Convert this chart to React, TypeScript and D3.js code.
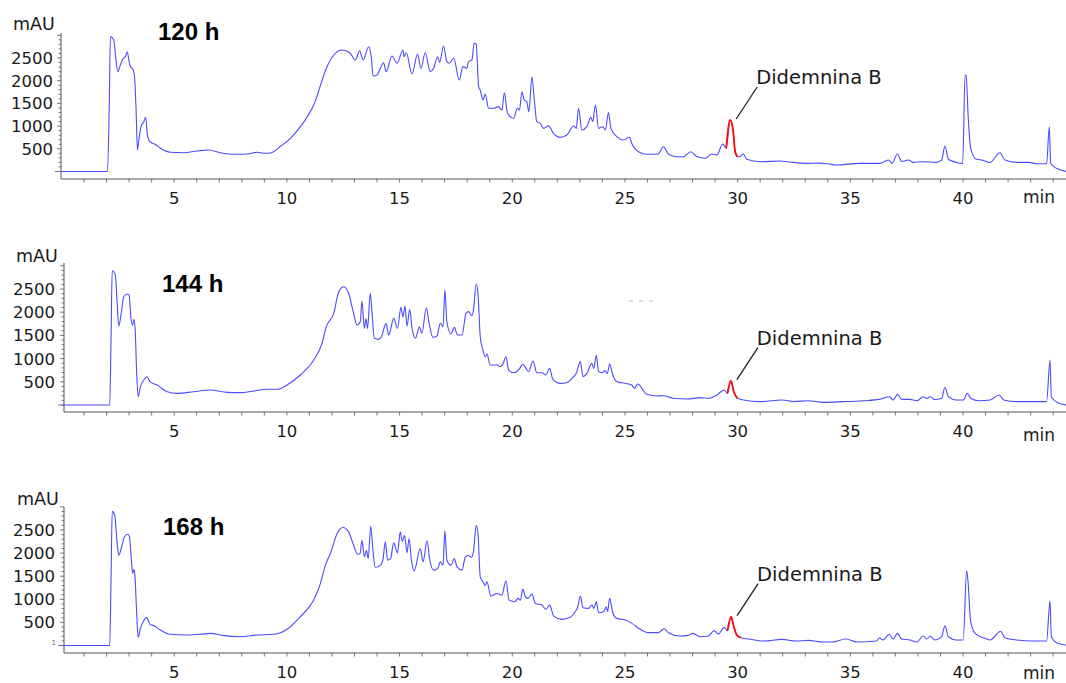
import React from 'react';
import * as d3 from 'd3';

type Pt = [number, number];

// retention time (min), absorbance (mAU)
const trace120h: Pt[] = [
  [0,0],[2.04,0],[2.12,1500],[2.17,2970],[2.32,2897],[2.40,2529],[2.50,2199],[2.61,2346],[2.74,2494],[2.84,2529],[2.91,2639],[3.03,2346],[3.18,2236],[3.24,2088],[3.31,1355],[3.37,474],[3.43,694],[3.53,987],[3.65,1097],[3.74,1194],[3.80,841],[3.92,657],[4.13,606],[4.39,511],[4.83,423],[5.42,414],[6.02,452],[6.53,474],[7.05,414],[7.64,379],[8.23,385],[8.68,423],[8.97,401],[9.32,414],[9.69,546],[10.16,731],[10.60,987],[11.19,1465],[11.78,2309],[12.08,2566],[12.45,2677],[12.81,2604],[13.04,2456],[13.23,2661],[13.38,2456],[13.63,2749],[13.76,2456],[13.82,2104],[14.0,2126],[14.15,2273],[14.29,2397],[14.41,2199],[14.66,2544],[14.89,2384],[15.15,2677],[15.2,2529],[15.30,2617],[15.55,2148],[15.80,2588],[15.95,2273],[16.14,2617],[16.36,2199],[16.51,2273],[16.69,2529],[16.78,2404],[16.95,2765],[17.10,2419],[17.2,2384],[17.40,2494],[17.65,2016],[17.81,2309],[17.99,2273],[18.06,2419],[18.21,2456],[18.31,2824],[18.4,2800],[18.51,1868],[18.58,1795],[18.70,1575],[18.80,1707],[18.95,1392],[19.17,1392],[19.39,1428],[19.54,1355],[19.65,1736],[19.79,1282],[20.06,1172],[20.23,1392],[20.32,1355],[20.43,1758],[20.53,1575],[20.64,1538],[20.74,1318],[20.87,2088],[20.98,1575],[21.09,1097],[21.24,1060],[21.39,951],[21.61,1004],[21.83,841],[22.13,753],[22.42,804],[22.72,1002],[22.84,950],[22.94,1392],[23.09,914],[23.31,987],[23.49,1194],[23.57,1100],[23.69,1465],[23.83,951],[24.02,987],[24.13,914],[24.27,1296],[24.38,951],[24.64,767],[24.94,694],[25.20,753],[25.3,621],[25.60,436],[25.97,379],[26.46,379],[26.71,546],[26.93,379],[27.30,326],[27.6,326],[27.92,436],[28.19,330],[28.56,291],[28.86,385],[29.08,363],[29.34,606],[29.49,511],[29.67,1134],[29.8,900],[29.89,436],[29.99,326],[30.1,330],[30.26,385],[30.4,270],[31.0,216],[31.9,230],[32.3,210],[33.07,180],[33.6,185],[34.0,170],[34.4,143],[35.43,180],[36.3,180],[36.69,253],[36.85,180],[37.09,385],[37.28,220],[37.58,253],[37.8,200],[38.17,216],[38.8,200],[39.05,250],[39.20,562],[39.35,270],[39.72,200],[39.99,180],[40.09,2126],[40.14,2126],[40.23,1208],[40.34,511],[40.6,270],[40.86,250],[41.2,200],[41.64,414],[41.86,253],[42.38,200],[42.9,200],[43.3,170],[43.71,170],[43.83,987],[43.89,180],[44.15,70],[44.6,0]
];

const trace144h: Pt[] = [
  [0,0],[2.14,0],[2.2,1500],[2.25,2894],[2.39,2800],[2.47,2191],[2.54,1702],[2.65,1976],[2.76,2334],[2.91,2392],[3.0,2370],[3.09,1832],[3.16,1720],[3.21,1847],[3.27,1616],[3.33,754],[3.40,179],[3.50,394],[3.65,539],[3.80,610],[3.92,502],[4.24,431],[4.69,287],[5.13,251],[5.87,287],[6.61,323],[7.35,273],[7.94,266],[8.53,302],[9.12,338],[9.6,338],[10.01,431],[10.60,647],[11.19,970],[11.56,1329],[11.75,1688],[12.08,1976],[12.30,2442],[12.52,2550],[12.74,2407],[12.96,1976],[13.11,1724],[13.26,1800],[13.33,2241],[13.44,1653],[13.51,1860],[13.58,1650],[13.70,2407],[13.78,1976],[13.88,1437],[14.07,1415],[14.21,1487],[14.40,1760],[14.52,1509],[14.74,1868],[14.91,1653],[15.06,2105],[15.15,1897],[15.24,2134],[15.33,1700],[15.45,2062],[15.56,1639],[15.70,1437],[15.88,1688],[15.99,1545],[16.19,2097],[16.3,1789],[16.48,1459],[16.66,1487],[16.81,1760],[16.93,1688],[17.01,2478],[17.1,1789],[17.28,1530],[17.43,1674],[17.57,1509],[17.77,1509],[17.95,1976],[18.06,2012],[18.21,1918],[18.28,2047],[18.40,2608],[18.48,2400],[18.58,1472],[18.70,1185],[18.80,1041],[18.88,1099],[19.02,862],[19.32,862],[19.47,826],[19.6,900],[19.72,1041],[19.84,754],[20.06,696],[20.28,754],[20.47,877],[20.57,820],[20.72,718],[20.92,948],[21.09,696],[21.32,696],[21.49,647],[21.66,790],[21.80,553],[22.13,467],[22.42,480],[22.65,575],[22.84,682],[23.02,934],[23.14,610],[23.31,680],[23.53,898],[23.62,790],[23.73,1077],[23.83,720],[23.98,696],[24.12,740],[24.22,680],[24.32,884],[24.46,647],[24.64,503],[25.01,467],[25.3,431],[25.43,359],[25.56,452],[25.97,230],[26.42,194],[26.71,200],[27.15,144],[27.74,129],[28.34,158],[28.7,144],[29.08,216],[29.40,323],[29.55,251],[29.70,524],[29.83,287],[29.99,144],[30.26,108],[31.0,72],[31.97,108],[32.5,72],[33.14,93],[33.8,57],[34.69,72],[35.58,93],[36.3,122],[36.73,179],[36.9,108],[37.09,230],[37.28,122],[37.65,122],[37.95,90],[38.24,179],[38.4,140],[38.54,179],[38.75,120],[39.05,140],[39.20,381],[39.35,179],[39.7,108],[40.01,108],[40.19,251],[40.35,140],[40.7,93],[41.2,108],[41.61,216],[41.8,108],[42.38,72],[43.2,72],[43.71,72],[43.86,970],[43.92,179],[44.2,50],[44.6,0]
];

const trace168h: Pt[] = [
  [0,0],[2.14,0],[2.2,1500],[2.25,2905],[2.36,2819],[2.47,2208],[2.54,1955],[2.65,2099],[2.79,2350],[2.94,2408],[3.02,2350],[3.09,1918],[3.16,1560],[3.21,1646],[3.26,1502],[3.33,767],[3.40,177],[3.50,372],[3.65,536],[3.77,609],[3.92,464],[4.12,421],[4.39,335],[4.83,242],[5.57,227],[6.17,242],[6.61,263],[7.2,213],[7.94,191],[8.68,227],[9.42,242],[10.01,350],[10.60,623],[11.19,983],[11.49,1343],[11.71,1739],[11.93,1991],[12.23,2423],[12.49,2553],[12.74,2459],[12.96,2171],[13.14,1976],[13.25,1990],[13.33,2279],[13.44,1918],[13.53,2060],[13.61,1883],[13.72,2581],[13.82,2060],[13.92,1689],[14.15,1739],[14.26,1850],[14.37,2242],[14.47,1847],[14.6,1880],[14.74,2221],[14.91,2005],[15.03,2459],[15.12,2250],[15.22,2387],[15.33,2005],[15.42,2315],[15.52,1868],[15.65,1616],[15.92,2099],[16.04,1811],[16.22,2264],[16.33,1883],[16.51,1631],[16.69,1670],[16.81,1811],[16.93,1740],[17.01,2480],[17.1,1847],[17.28,1739],[17.43,1883],[17.55,1700],[17.77,1631],[17.92,1918],[18.06,1955],[18.18,1905],[18.28,2030],[18.40,2603],[18.48,2420],[18.58,1486],[18.70,1378],[18.80,1300],[18.88,1378],[19.05,1069],[19.32,1127],[19.54,1091],[19.72,1400],[19.86,983],[20.11,946],[20.26,1019],[20.36,980],[20.47,1220],[20.57,1069],[20.69,1019],[20.87,1112],[21.03,911],[21.32,875],[21.49,781],[21.66,875],[21.84,637],[22.2,565],[22.57,610],[22.79,731],[22.9,820],[23.02,1069],[23.14,817],[23.38,803],[23.53,875],[23.62,800],[23.73,946],[23.83,709],[24.05,730],[24.17,839],[24.23,730],[24.32,1019],[24.46,709],[24.64,587],[25.01,551],[25.31,479],[25.68,350],[26.04,278],[26.49,278],[26.74,364],[26.93,278],[27.45,205],[27.8,220],[28.01,263],[28.34,191],[28.7,205],[28.96,321],[29.15,249],[29.40,393],[29.55,321],[29.71,623],[29.83,407],[29.96,227],[30.14,169],[30.5,140],[31.15,97],[31.97,133],[32.6,97],[33.14,111],[33.8,75],[34.2,75],[34.81,140],[35.28,75],[36.17,97],[36.29,169],[36.45,119],[36.73,242],[36.9,140],[37.09,263],[37.28,140],[37.65,119],[37.95,75],[38.24,205],[38.4,140],[38.54,205],[38.75,119],[39.05,190],[39.20,428],[39.35,190],[39.7,119],[40.01,119],[40.16,1616],[40.22,1400],[40.34,515],[40.54,263],[40.9,169],[41.2,119],[41.67,307],[41.86,169],[42.38,119],[43.1,97],[43.71,97],[43.86,968],[43.92,190],[44.2,50],[44.6,10]
];

const sampleLabels = ['120 h', '144 h', '168 h'];
const peakName = 'Didemnina B';
const peakWindows: [number, number][] = [[29.49, 29.99], [29.55, 29.99], [29.55, 30.14]];
const xTickLabels = [5, 10, 15, 20, 25, 30, 35, 40];
const xMinorTicks = d3.range(1, 45);
const yTickLabels = [500, 1000, 1500, 2000, 2500];
const yMinorTicks = d3.range(0, 3001, 100);
const xUnit = 'min';
const yUnit = 'mAU';

const traces = [trace120h, trace144h, trace168h];

const W = 1066;
const H = 683;
const FONT = "'DejaVu Sans', Verdana, sans-serif";
const BLUE = '#4b4bff';
const RED = '#ff0a0a';
const AXIS = '#555';

const layout = [
  { yZero: 171.5, y2500: 58, axisY: 179, yAxisX: 61, yAxisTop: 33, unitX: 13, unitBase: 30, titleX: 158, titleBase: 40, labelRight: 53, minBase: 203 },
  { yZero: 405, y2500: 289, axisY: 412, yAxisX: 64, yAxisTop: 263, unitX: 16, unitBase: 262, titleX: 162, titleBase: 292, labelRight: 55, minBase: 441 },
  { yZero: 645.5, y2500: 530, axisY: 653, yAxisX: 64, yAxisTop: 507, unitX: 17, unitBase: 505, titleX: 163, titleBase: 535, labelRight: 55, minBase: 679 },
];

const x = d3.scaleLinear().domain([0, 40]).range([61.5, 963]);

function Panel({ idx }: { idx: number }) {
  const L = layout[idx];
  const data = traces[idx];
  const win = peakWindows[idx];
  const y = d3.scaleLinear().domain([0, 2500]).range([L.yZero, L.y2500]);
  const line = d3.line<Pt>().x(d => x(d[0])).y(d => y(d[1])).curve(d3.curveMonotoneX);
  const red = data.filter(d => d[0] >= win[0] - 1e-6 && d[0] <= win[1] + 1e-6);
  const apex = red.reduce((a, b) => (b[1] > a[1] ? b : a), red[0]);
  const ex = x(apex[0]) + 6;
  const ey = y(apex[1]) - 1;
  const sx = ex + 21;
  const sy = ey - 32;
  return (
    <g>
      <line x1={L.yAxisX} x2={L.yAxisX} y1={L.yAxisTop} y2={L.axisY} stroke={AXIS} strokeWidth={1} />
      {yMinorTicks.map(v => {
        const len = v === 0 ? 6 : v % 500 === 0 ? 4 : 2.5;
        return <line key={'ym' + v} x1={L.yAxisX - len} x2={L.yAxisX} y1={y(v)} y2={y(v)} stroke={AXIS} strokeWidth={0.8} />;
      })}
      {yTickLabels.map(v => (
        <text key={'yl' + v} x={L.labelRight} y={y(v)} dy="0.36em" textAnchor="end" fontFamily={FONT} fontSize={16.5} fill="#1a1a1a">{v}</text>
      ))}
      <text x={L.unitX} y={L.unitBase} fontFamily={FONT} fontSize={17.5} fill="#1a1a1a">{yUnit}</text>
      <line x1={L.yAxisX} x2={W} y1={L.axisY} y2={L.axisY} stroke={AXIS} strokeWidth={1} />
      {xMinorTicks.map(t => (
        <line key={'xm' + t} x1={x(t)} x2={x(t)} y1={L.axisY} y2={L.axisY + 3.5} stroke={AXIS} strokeWidth={0.8} />
      ))}
      {xTickLabels.map(t => (
        <text key={'xl' + t} x={x(t)} y={L.axisY + 25} textAnchor="middle" fontFamily={FONT} fontSize={16.5} fill="#1a1a1a">{t}</text>
      ))}
      <text x={1023} y={L.minBase} fontFamily={FONT} fontSize={17} fill="#1a1a1a">{xUnit}</text>
      <text x={L.titleX} y={L.titleBase} fontFamily="'Liberation Sans', Arial, sans-serif" fontWeight="bold" fontSize={24} fill="#000">{sampleLabels[idx]}</text>
      <path d={line(data) || ''} fill="none" stroke={BLUE} strokeWidth={1.1} strokeLinejoin="round" />
      <path d={line(red) || ''} fill="none" stroke={RED} strokeWidth={1.8} strokeLinejoin="round" />
      <line x1={sx} y1={sy} x2={ex} y2={ey} stroke="#222" strokeWidth={1.3} />
      <text x={sx - 1} y={sy - 3} fontFamily={FONT} fontSize={19.5} fill="#1a1a1a">{peakName}</text>
    </g>
  );
}

export default function App() {
  return (
    <div style={{ position: 'fixed', left: 0, top: 0, width: W, height: H, background: '#fff' }}>
      <svg width={W} height={H} viewBox={`0 0 ${W} ${H}`} style={{ display: 'block' }}>
        <rect x={0} y={0} width={W} height={H} fill="#fff" />
        {layout.map((_, i) => <Panel key={i} idx={i} />)}
        <text x={56} y={645} textAnchor="end" fontFamily={FONT} fontSize={7} fill="#666">1</text>
        <line x1={629} x2={656} y1={301} y2={301} stroke="#bbb" strokeWidth={1} strokeDasharray="4 6" />
      </svg>
    </div>
  );
}
